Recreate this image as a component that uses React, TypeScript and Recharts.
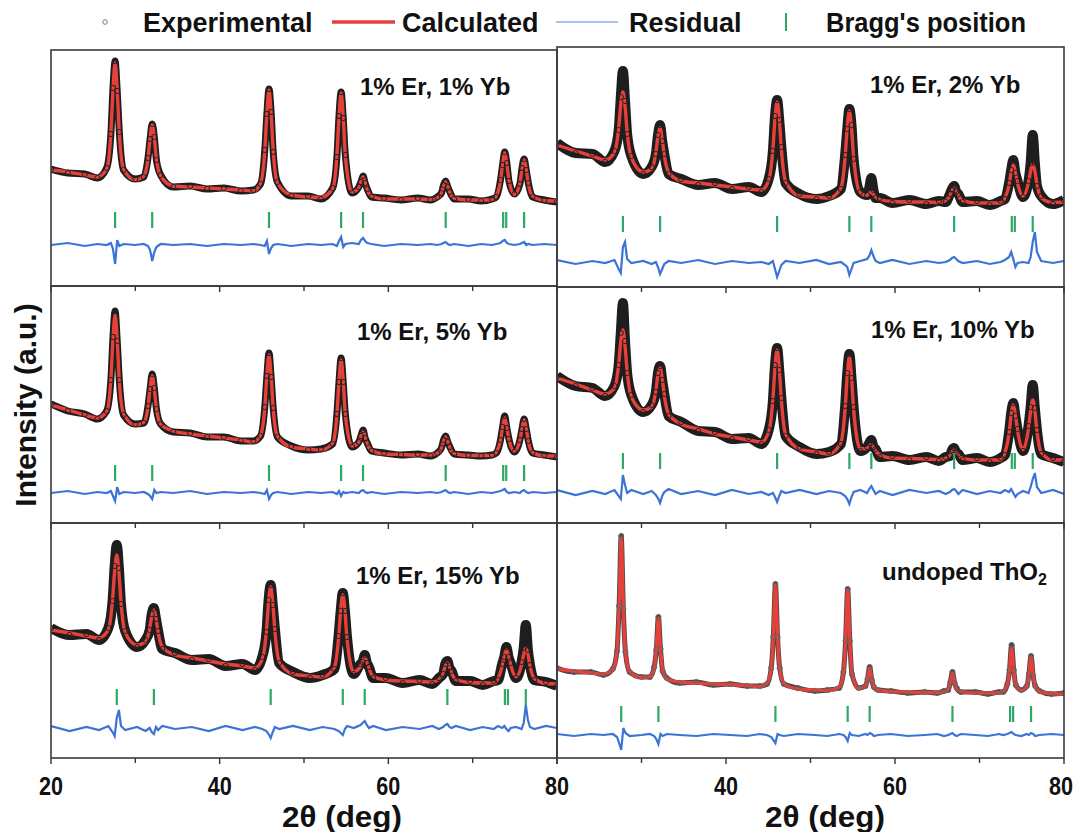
import React from 'react';
import { ComposedChart, Line, Scatter, XAxis, YAxis } from 'recharts';

// 2θ sampling grids (deg)
const thetaA = [20, 22, 24, 25.5, 26.6, 27.1, 27.35, 27.6, 27.85, 28.1, 28.6, 30, 31, 31.5, 31.75, 32, 32.25, 32.5, 33, 34.5, 36.5, 38.5, 40.5, 42.5, 44, 44.85, 45.35, 45.6, 45.85, 46.1, 46.35, 46.85, 48.5, 50.5, 52, 53.4, 53.9, 54.15, 54.4, 54.65, 54.9, 55.7, 56.5, 56.75, 57, 57.25, 57.5, 58, 59.5, 61.5, 63.5, 65, 65.8, 66.3, 66.55, 66.8, 67.05, 67.3, 67.8, 69.5, 71, 72.3, 72.8, 73.3, 73.55, 73.8, 74.05, 74.3, 74.95, 75.6, 75.85, 76.1, 76.35, 76.6, 77.1, 78.5, 80];
const thetaB = [20, 22.2, 24.2, 25.7, 26.8, 27.3, 27.55, 27.8, 28.05, 28.3, 28.8, 30.2, 31.2, 31.7, 31.95, 32.2, 32.45, 32.7, 33.2, 34.7, 36.7, 38.7, 40.7, 42.7, 44.2, 45.05, 45.55, 45.8, 46.05, 46.3, 46.55, 47.05, 48.7, 50.7, 52.2, 53.6, 54.1, 54.35, 54.6, 54.85, 55.1, 55.9, 56.7, 56.95, 57.2, 57.45, 57.7, 58.2, 59.7, 61.7, 63.7, 65.2, 66, 66.5, 66.75, 67, 67.25, 67.5, 68, 69.7, 71.2, 72.5, 73, 73.5, 73.75, 74, 74.25, 74.5, 75.15, 75.8, 76.05, 76.3, 76.55, 76.8, 77.3, 78.7, 80];

// Bragg reflection positions
const braggA = [27.6, 32.0, 45.85, 54.4, 57.0, 66.8, 73.62, 73.98, 76.1];
const braggB = [27.8, 32.2, 46.05, 54.6, 57.2, 67.0, 73.82, 74.18, 76.3];
const braggLevels = [66, 63, 50, 62, 61, 44];

// Panel 1: 1% Er, 1% Yb
const calc1 = [116, 114, 111, 109, 117, 153, 196, 223, 196, 153, 117, 106, 110, 127, 148, 161, 148, 127, 110, 100, 99, 98, 97, 96, 95, 103, 135, 173, 196, 173, 135, 103, 91, 89, 88.5, 97.5, 130, 169, 193, 169, 130, 94, 98, 105, 109, 104, 96, 90, 87, 87, 87, 86.5, 88, 93.5, 100, 104, 100, 93.5, 88, 86, 86, 86, 90, 105, 122, 133, 122, 106, 91, 103, 117, 126, 117, 102, 90, 85.5, 85];
const expt1 = [117, 113, 112, 108, 118, 152, 198, 225, 195, 154, 116, 107, 109, 128, 147, 162, 149, 126, 111, 99, 100, 97, 98, 95, 96, 102, 136, 172, 197, 174, 134, 104, 90, 90, 87, 98, 129, 170, 194, 168, 131, 93, 99, 104, 110, 103, 97, 89, 88, 86, 88, 86, 89, 93, 101, 105, 99, 94, 87, 87, 85, 87, 89, 106, 121, 134, 123, 105, 92, 102, 118, 127, 116, 103, 89, 86, 84];
const resid1 = [41, 43, 40, 42, 41, 43, 37, 22, 46, 40, 42, 41, 42, 40, 36, 25, 34, 39, 42, 41, 42, 40, 42, 41, 42, 41, 40, 45, 32, 38, 41, 42, 40, 42, 41, 42, 40, 45, 49, 39, 42, 43, 42, 46, 48, 45, 43, 42, 40, 42, 41, 42, 41, 42, 43, 44, 42, 41, 42, 40, 42, 41, 42, 43, 45, 46, 43, 42, 41, 42, 43, 44, 41, 42, 41, 42, 41];

// Panel 2: 1% Er, 2% Yb
const calc2 = [142, 136, 131, 127, 134.5, 159, 183, 195, 181, 155, 129.5, 115, 118, 134.5, 150.5, 159, 147.5, 131.5, 115, 106, 104, 102, 100, 98, 97, 106.7, 138, 169, 185, 169, 138, 105.7, 91, 90, 89, 99.4, 130, 160, 176, 160, 130, 93.8, 91.5, 93.5, 95, 92.5, 90, 87.5, 85.5, 85, 85, 84.5, 86.4, 91.5, 96.4, 99, 96.4, 91.5, 86.4, 84, 84, 84, 89, 102, 115, 122, 115, 104, 91, 104.7, 116, 123, 116, 102.7, 89, 84.5, 85];
const expt2 = [144, 134, 133, 125, 136, 157, 190, 216, 186, 153, 131, 113, 120, 133, 152, 162, 146, 133, 113, 108, 102, 104, 98, 100, 95, 108, 136, 171, 187, 167, 140, 104, 93, 88, 91, 98, 132, 158, 178, 162, 128, 95, 92, 99, 109, 97, 89, 89, 84, 87, 83, 86, 85, 93, 98, 101, 95, 93, 85, 86, 82, 86, 88, 104, 117, 127, 114, 106, 90, 106, 124, 152, 124, 101, 91, 83, 87];
const resid2 = [27, 23, 26, 24, 27, 18, 14, 40, 45, 28, 24, 26, 23, 25, 20, 13, 18, 23, 26, 24, 27, 23, 26, 24, 25, 23, 26, 18, 10, 16, 22, 26, 24, 27, 23, 25, 22, 20, 12, 18, 24, 26, 28, 31, 37, 31, 26, 24, 27, 23, 26, 24, 25, 27, 29, 30, 28, 26, 24, 26, 23, 25, 27, 30, 35, 28, 20, 24, 25, 24, 30, 45, 55, 35, 26, 24, 26];

// Panel 3: 1% Er, 5% Yb
const calc3 = [118, 113, 108, 105, 111.5, 144, 184, 208, 183, 142, 109.5, 98, 100.6, 116, 135, 147, 134, 115, 98.6, 92, 89, 87, 85, 83, 81, 88, 115, 148, 168, 147, 114, 87, 76, 74, 73, 80, 108, 142, 163, 142, 108, 77, 80.5, 87.4, 91, 86.4, 79, 72.8, 69, 68.5, 68, 68, 69.6, 75.2, 81.9, 86, 81.9, 75.2, 69.6, 67.5, 67.5, 67.5, 70.9, 82.5, 96.4, 105, 96.4, 83.5, 71.9, 82.7, 94.8, 103, 94.8, 81.7, 70.7, 67, 67];
const expt3 = [119, 112, 109, 104, 112, 143, 186, 212, 182, 143, 108, 99, 100, 117, 134, 149, 135, 114, 99, 91, 90, 86, 86, 82, 82, 87, 116, 147, 170, 146, 115, 86, 77, 73, 74, 79, 109, 141, 165, 141, 109, 76, 81, 87, 93, 85, 80, 72, 70, 68, 69, 67, 70, 75, 83, 87, 81, 76, 69, 68, 67, 68, 70, 83, 96, 107, 95, 84, 71, 83, 94, 104, 94, 82, 70, 68, 66];
const resid3 = [30, 32, 29, 31, 30, 32, 27, 22, 36, 29, 31, 30, 31, 29, 27, 24, 33, 30, 31, 30, 32, 29, 31, 30, 31, 30, 29, 33, 24, 28, 30, 31, 29, 31, 30, 31, 29, 32, 27, 31, 30, 31, 30, 32, 33, 31, 30, 31, 29, 31, 30, 31, 30, 31, 32, 33, 31, 30, 31, 29, 31, 30, 31, 32, 33, 34, 31, 30, 31, 30, 32, 33, 31, 30, 31, 30, 31];

// Panel 4: 1% Er, 10% Yb
const calc4 = [145, 139, 133, 129, 135, 159, 182, 193, 177, 152, 126, 113, 116, 132.5, 148.5, 155, 144.5, 127.5, 109, 99, 94, 89, 86, 83, 81, 91, 124, 156, 173, 155, 123, 89, 74, 71, 69, 80.7, 115, 148, 166, 147, 114, 74.2, 74.5, 77, 78.5, 76, 72.5, 68, 65, 64.5, 64, 63.5, 64.7, 68, 71.3, 73, 71.3, 68, 64.7, 63, 63, 63, 70, 89.4, 108, 118, 108, 92.4, 73.4, 94.8, 112, 123, 112, 91.8, 70.8, 63, 63];
const expt4 = [147, 137, 135, 127, 137, 158, 190, 220, 182, 150, 128, 111, 118, 131, 150, 157, 143, 129, 107, 101, 92, 91, 84, 85, 79, 93, 122, 158, 175, 153, 125, 87, 76, 69, 71, 79, 117, 150, 169, 145, 116, 72, 76, 80, 83, 76, 74, 66, 67, 63, 66, 62, 66, 67, 73, 75, 70, 69, 63, 65, 61, 65, 68, 91, 110, 120, 107, 94, 72, 97, 116, 138, 115, 93, 69, 65, 61];
const resid4 = [33, 28, 32, 29, 33, 27, 24, 48, 38, 30, 33, 29, 32, 28, 25, 20, 27, 31, 34, 29, 32, 28, 33, 29, 31, 28, 30, 26, 21, 27, 32, 30, 33, 29, 32, 30, 27, 24, 19, 26, 31, 33, 30, 34, 37, 33, 29, 32, 28, 33, 30, 32, 29, 31, 33, 34, 32, 29, 33, 29, 32, 30, 33, 31, 34, 30, 26, 29, 32, 30, 36, 44, 50, 36, 30, 33, 29];

// Panel 5: 1% Er, 15% Yb
const calc5 = [128, 125, 122, 120, 128.3, 158.8, 187, 203, 186, 155.8, 125.3, 113, 116, 129.7, 142, 148, 140, 125.7, 111, 103, 100, 97, 94, 92, 90, 98.8, 127.8, 156, 171, 155, 126.8, 96.8, 84, 82, 81, 90.8, 119.8, 148, 163, 148, 119.3, 86.3, 91.5, 97.7, 100, 96.2, 89.5, 81.7, 78, 77, 76.5, 76, 78.5, 85.1, 91.6, 95, 91.6, 85.1, 78.5, 75.5, 75, 75, 79.3, 91.8, 102, 108, 102, 93.3, 81.1, 93.3, 103.7, 110, 103.7, 91.8, 79.6, 74.5, 74];
const expt5 = [130, 123, 124, 118, 130, 157, 192, 213, 190, 154, 127, 111, 118, 128, 144, 150, 139, 127, 109, 105, 98, 99, 92, 94, 88, 101, 126, 158, 173, 153, 129, 95, 86, 80, 83, 89, 122, 147, 165, 147, 121, 84, 94, 96, 103, 95, 91, 80, 80, 75, 78, 74, 80, 84, 94, 97, 90, 87, 77, 77, 73, 77, 78, 94, 101, 111, 101, 95, 80, 96, 110, 133, 108, 93, 78, 76, 72];
const resid5 = [32, 27, 31, 28, 32, 26, 22, 40, 48, 32, 28, 31, 27, 30, 26, 24, 31, 28, 32, 29, 31, 27, 32, 28, 31, 29, 27, 24, 20, 26, 31, 29, 32, 28, 31, 29, 27, 25, 23, 29, 32, 30, 33, 35, 37, 33, 30, 32, 28, 31, 29, 32, 29, 31, 33, 34, 31, 30, 32, 28, 31, 29, 32, 30, 32, 29, 27, 30, 31, 29, 35, 53, 38, 31, 29, 32, 30];

// Panel 6: undoped ThO2
const calc6 = [89, 87, 85, 84, 88.5, 107.8, 151, 220, 150, 105.8, 86.5, 80.5, 81.5, 90.2, 109, 140, 108, 88.2, 79, 76, 75, 74, 73.5, 72.5, 71.5, 75, 89.4, 122, 173, 122, 89.4, 74.5, 69, 68, 67.5, 71, 85.2, 117.5, 168, 117.5, 85.2, 69.5, 72.1, 78.5, 90, 78.5, 71.1, 68, 66.5, 66, 65.5, 65.5, 66.3, 69, 75.3, 85, 75.3, 69, 66.3, 65, 65, 65, 66.8, 73.1, 87.5, 110, 87.5, 73.6, 67.4, 72, 83, 101, 83, 71.5, 66.4, 64.5, 64];
const expt6 = [90, 86, 86, 83, 89, 107, 152, 222, 149, 106, 86, 81, 81, 91, 108, 141, 109, 87, 80, 75, 76, 73, 74, 72, 72, 74, 90, 121, 174, 121, 90, 74, 70, 67, 68, 70, 86, 117, 169, 117, 84, 70, 72, 79, 91, 78, 71, 68, 67, 65, 66, 65, 67, 68, 76, 86, 75, 70, 66, 66, 64, 66, 66, 74, 88, 113, 88, 73, 68, 72, 84, 102, 82, 72, 67, 64, 65];
const resid6 = [24, 22, 24, 23, 24, 21, 15, 8, 30, 25, 22, 23, 24, 22, 19, 14, 24, 22, 24, 23, 22, 24, 23, 22, 24, 23, 21, 18, 15, 24, 23, 22, 24, 23, 22, 24, 23, 21, 17, 25, 23, 22, 24, 23, 25, 24, 22, 23, 24, 22, 23, 24, 22, 23, 24, 25, 23, 22, 24, 23, 22, 24, 23, 24, 25, 26, 24, 23, 22, 24, 23, 25, 24, 22, 23, 24, 23];

const panelLabels = ['1% Er, 1% Yb', '1% Er, 2% Yb', '1% Er, 5% Yb', '1% Er, 10% Yb', '1% Er, 15% Yb', 'undoped ThO'];
const xTicks = [20, 30, 40, 50, 60, 70, 80];
const legendLabels = ['Experimental', 'Calculated', 'Residual', "Bragg's position"];
const xTitle = '2θ (deg)';
const yTitle = 'Intensity (a.u.)';

const BOLD = "'Liberation Sans', Arial, sans-serif";
const PAD = 24;

const layout = [
  { x: 51, y: 50, w: 506, h: 236, col: 0, bottom: false, lx: 360, ly: 95 },
  { x: 557, y: 47, w: 507, h: 240, col: 1, bottom: false, lx: 870, ly: 93 },
  { x: 51, y: 286, w: 506, h: 237, col: 0, bottom: false, lx: 357, ly: 340 },
  { x: 557, y: 287, w: 507, h: 236, col: 1, bottom: false, lx: 871, ly: 338 },
  { x: 51, y: 523, w: 506, h: 235, col: 0, bottom: true, lx: 356, ly: 584 },
  { x: 557, y: 523, w: 507, h: 235, col: 1, bottom: true, lx: 882, ly: 580 },
];

const series = [
  { theta: thetaA, calc: calc1, expt: expt1, resid: resid1, bragg: braggA, band: 7, ink: '#1e1e1e', ring: '#222' },
  { theta: thetaB, calc: calc2, expt: expt2, resid: resid2, bragg: braggB, band: 10, ink: '#1e1e1e', ring: '#222' },
  { theta: thetaA, calc: calc3, expt: expt3, resid: resid3, bragg: braggA, band: 7, ink: '#1e1e1e', ring: '#222' },
  { theta: thetaB, calc: calc4, expt: expt4, resid: resid4, bragg: braggB, band: 10, ink: '#1e1e1e', ring: '#222' },
  { theta: thetaB, calc: calc5, expt: expt5, resid: resid5, bragg: braggB, band: 10, ink: '#1e1e1e', ring: '#222' },
  { theta: thetaA, calc: calc6, expt: expt6, resid: resid6, bragg: braggA, band: 5, ink: '#4a4a4a', ring: '#666' },
];

const RED = '#e5403a';
const BLUE = '#3b74d6';
const GREEN = '#2ea866';

const makeTick = (showLabel: boolean, rightCol: boolean) => (props: any) => {
  const { x, y, payload } = props;
  const v = payload.value;
  const major = v % 20 === 0;
  const shift = rightCol && v === 80 ? -3 : 0;
  return (
    <g>
      <line x1={x} x2={x} y1={y} y2={y + (major ? 6 : 5)} stroke="#333" strokeWidth={1.4} />
      {showLabel && major && !(rightCol && v === 20) ? (
        <text
          x={x + shift}
          y={y + 37}
          textAnchor="middle"
          fontFamily={BOLD}
          fontWeight="bold"
          fontSize={26}
          textLength={24}
          lengthAdjust="spacingAndGlyphs"
          fill="#111"
        >
          {v}
        </text>
      ) : null}
    </g>
  );
};

const BraggTick = (props: any) => {
  const { cx, cy } = props;
  return <line x1={cx} x2={cx} y1={cy - 8} y2={cy + 8} stroke={GREEN} strokeWidth={2.2} />;
};

function Panel({ idx }: { idx: number }) {
  const L = layout[idx];
  const S = series[idx];
  const rows = S.theta.map((t, i) => ({ theta: t, calc: S.calc[i], expt: S.expt[i], resid: S.resid[i] }));
  const bragg = S.bragg.map((t) => ({ theta: t, level: braggLevels[idx] }));
  const axisH = L.bottom ? 50 : 8;
  const dot = (p: any) => (
    <circle key={`d${p.index}`} cx={p.cx} cy={p.cy} r={2.6} fill="none" stroke={S.ring} strokeWidth={1} />
  );
  return (
    <div style={{ position: 'absolute', left: L.x - PAD, top: L.y }}>
      <ComposedChart
        width={L.w + 2 * PAD}
        height={L.h + axisH}
        data={rows}
        margin={{ top: 0, right: PAD, bottom: 0, left: PAD }}
      >
        <XAxis
          dataKey="theta"
          type="number"
          domain={[20, 80]}
          ticks={xTicks}
          interval={0}
          allowDataOverflow
          axisLine={false}
          tickLine={false}
          tickSize={0}
          tickMargin={0}
          height={axisH}
          tick={makeTick(L.bottom, L.col === 1)}
        />
        <YAxis hide type="number" domain={[0, L.h]} allowDataOverflow />
        <Line
          dataKey="expt"
          type="monotone"
          stroke={S.ink}
          strokeWidth={S.band}
          strokeLinejoin="round"
          dot={dot}
          activeDot={false}
          isAnimationActive={false}
        />
        <Line dataKey="calc" type="monotone" stroke={RED} strokeWidth={3.4} dot={false} activeDot={false} isAnimationActive={false} />
        <Line dataKey="resid" type="linear" stroke={BLUE} strokeWidth={2.2} dot={false} activeDot={false} isAnimationActive={false} />
        <Scatter data={bragg} dataKey="level" shape={BraggTick} isAnimationActive={false} />
      </ComposedChart>
    </div>
  );
}

export default function App() {
  return (
    <div style={{ position: 'absolute', left: 0, top: 0, width: 1078, height: 832, background: '#fff', overflow: 'hidden' }}>
      {layout.map((_, i) => (
        <Panel key={i} idx={i} />
      ))}
      <svg width={1078} height={832} style={{ position: 'absolute', left: 0, top: 0, pointerEvents: 'none' }}>
        {layout.map((L, i) => (
          <rect key={`r${i}`} x={L.x} y={L.y} width={L.w} height={L.h} fill="none" stroke="#3a3a3a" strokeWidth={1.6} />
        ))}
        {layout.map((L, i) => (
          <text key={`t${i}`} x={L.lx} y={L.ly} fontFamily={BOLD} fontWeight="bold" fontSize={24} fill="#111">
            {panelLabels[i]}
            {i === 5 ? (
              <tspan fontSize={16} dy={5}>
                2
              </tspan>
            ) : null}
          </text>
        ))}
        {/* legend */}
        <circle cx={105} cy={22} r={2.3} fill="none" stroke="#777" strokeWidth={1} />
        <text x={143} y={32} fontFamily={BOLD} fontWeight="bold" fontSize={27} fill="#111">{legendLabels[0]}</text>
        <line x1={332} x2={395} y1={22} y2={22} stroke={RED} strokeWidth={3.5} />
        <text x={402} y={32} fontFamily={BOLD} fontWeight="bold" fontSize={27} fill="#111">{legendLabels[1]}</text>
        <line x1={556} x2={618} y1={22} y2={22} stroke="#a9c3ec" strokeWidth={2} />
        <text x={629} y={32} fontFamily={BOLD} fontWeight="bold" fontSize={27} fill="#111">{legendLabels[2]}</text>
        <line x1={786} x2={786} y1={13} y2={31} stroke={GREEN} strokeWidth={2} />
        <text x={826} y={32} fontFamily={BOLD} fontWeight="bold" fontSize={27} textLength={200} lengthAdjust="spacingAndGlyphs" fill="#111">{legendLabels[3]}</text>
        {/* axis titles */}
        <text x={342} y={827} textAnchor="middle" fontFamily={BOLD} fontWeight="bold" fontSize={30} textLength={120} lengthAdjust="spacingAndGlyphs" fill="#111">{xTitle}</text>
        <text x={825} y={827} textAnchor="middle" fontFamily={BOLD} fontWeight="bold" fontSize={30} textLength={120} lengthAdjust="spacingAndGlyphs" fill="#111">{xTitle}</text>
        <text transform="translate(36,405) rotate(-90)" textAnchor="middle" fontFamily={BOLD} fontWeight="bold" fontSize={30} fill="#111">{yTitle}</text>
      </svg>
    </div>
  );
}
